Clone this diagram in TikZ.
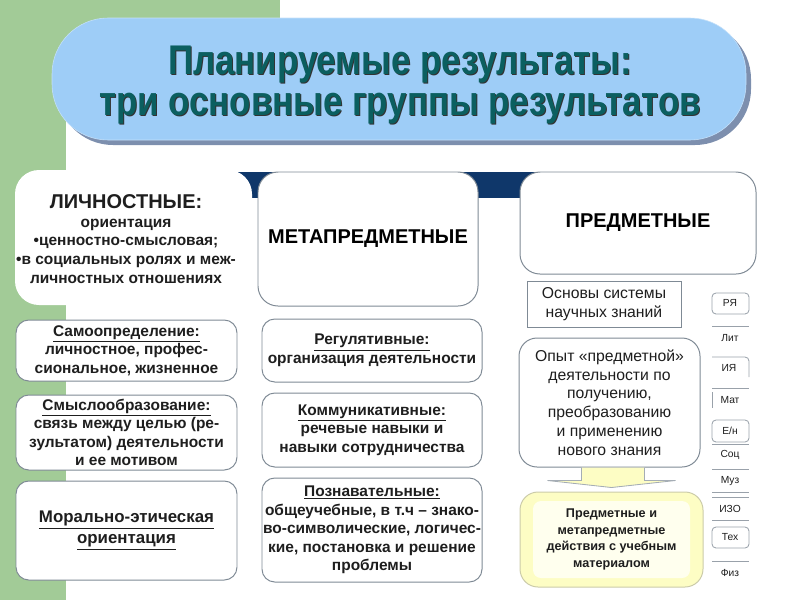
\documentclass[tikz,border=0pt]{standalone}
\usepackage{fontspec}
\setmainfont{Liberation Sans}
\newfontfamily\titlefont[FakeStretch=0.84]{Liberation Sans}
\usepackage{xcolor}
\usetikzlibrary{calc}

\definecolor{stripgreen}{HTML}{A2CB97}
\definecolor{pillblue}{HTML}{9ECDF7}
\definecolor{pillshadow}{HTML}{7D8FAE}
\definecolor{titleteal}{HTML}{0B5F60}
\definecolor{bandnavy}{HTML}{0F376A}
\definecolor{boxgray}{HTML}{7F8A95}
\definecolor{txtdark}{HTML}{1E1E1E}
\definecolor{paleyellow}{HTML}{FDFDC4}
\definecolor{lightyellow}{HTML}{FFFFEE}

\tikzset{
	groupbox/.style={draw=boxgray, fill=white, line width=0.7pt, rounded corners=5mm},
	itembox/.style={draw=boxgray, fill=white, line width=0.7pt, rounded corners=3.2mm, inner sep=0.5pt},
	boldtxt/.style={text=txtdark, align=center, font=\bfseries\fontsize{11}{13.2}\selectfont},
	plaintxt/.style={text=txtdark, align=center, font=\fontsize{11.2}{13.3}\selectfont},
	headtxt/.style={text=black, align=center, font=\bfseries\fontsize{14.2}{16}\selectfont},
	subjtxt/.style={text=txtdark, font=\fontsize{7.3}{8}\selectfont},
	subjline/.style={draw=boxgray!80, line width=0.6pt},
}

\begin{document}
\begin{tikzpicture}[x=0.025cm, y=-0.025cm]
		\def\pxu{0.025cm}
		\useasboundingbox (0,0) rectangle (800,600);
		
		% background strip
		\fill[stripgreen] (0,0) rectangle (280,110);
		\fill[stripgreen] (0,0) rectangle (66,600);
		
		% title
		\fill[pillshadow, rounded corners=14mm] (57,23) rectangle (751,145);
		\node[fill=pillblue, draw=pillblue!60!white, rounded corners=14mm,
			minimum width=694*\pxu, minimum height=122*\pxu] (pill) at (399,79) {};
		\node[align=center, text=black!80, font=\titlefont\bfseries\fontsize{29.5}{28.5}\selectfont]
			(titleshadow) at (401,86) {Планируемые результаты:\\три основные группы результатов};
		\node[align=center, text=titleteal, font=\titlefont\bfseries\fontsize{29.5}{28.5}\selectfont]
			(title) at (400,85) {Планируемые результаты:\\три основные группы результатов};
		
		% three groups
		\fill[bandnavy] (225,172) rectangle (600,198);
		\fill[white, rounded corners=6mm] (15,170) rectangle (252,305);
		\node[boldtxt] (lichn) at (126,239)
			{{\fontsize{14.2}{16}\selectfont ЛИЧНОСТНЫЕ:}\\ориентация\\•ценностно-смысловая;\\•в социальных ролях и меж-\\личностных отношениях};
		\node[groupbox, headtxt, minimum width=220*\pxu, minimum height=134*\pxu] (meta) at (368,239) {МЕТАПРЕДМЕТНЫЕ};
		\node[groupbox, headtxt, minimum width=236*\pxu, minimum height=102*\pxu] (predm) at (638,223) {ПРЕДМЕТНЫЕ};
		
		% personal results
		\node[itembox, boldtxt, minimum width=221*\pxu, minimum height=61*\pxu] (samo) at (126.5,350.5)
			{\underline{Самоопределение:}\\личностное, профес-\\сиональное, жизненное};
		\node[itembox, boldtxt, minimum width=221*\pxu, minimum height=75*\pxu] (smysl) at (126.5,432.5)
			{\underline{Смыслообразование:}\\связь между целью (ре-\\зультатом) деятельности\\и ее мотивом};
		\node[itembox, boldtxt, minimum width=221*\pxu, minimum height=99*\pxu,
			font=\bfseries\fontsize{12}{14.5}\selectfont] (moral) at (126.5,530.5)
			{\underline{Морально-этическая}\\\underline{ориентация}};
		
		% meta results
		\node[itembox, boldtxt, minimum width=220*\pxu, minimum height=63*\pxu] (reg) at (372,350.5)
			{\underline{Регулятивные:}\\организация деятельности};
		\node[itembox, boldtxt, minimum width=220*\pxu, minimum height=74*\pxu] (komm) at (372,430)
			{\underline{Коммуникативные:}\\речевые навыки и\\навыки сотрудничества};
		\node[itembox, boldtxt, minimum width=220*\pxu, minimum height=104*\pxu] (pozn) at (372,530)
			{\underline{Познавательные:}\\общеучебные, в т.ч -- знако-\\во-символические, логичес-\\кие, постановка и решение\\проблемы};
		
		% subject results
		\node[draw=boxgray, fill=white, line width=0.7pt, plaintxt, inner sep=1pt,
			minimum width=154*\pxu, minimum height=46*\pxu] (osnovy) at (604,304)
			{Основы системы\\научных знаний};
		\node[groupbox, plaintxt, rounded corners=4.5mm, inner sep=1pt,
			minimum width=181*\pxu, minimum height=129*\pxu] (opyt) at (609.5,402.5)
			{Опыт «предметной»\\деятельности по\\получению,\\преобразованию\\и применению\\нового знания};
		\node[draw=paleyellow!60!gray, fill=paleyellow, line width=0.7pt, rounded corners=4.5mm,
			minimum width=183*\pxu, minimum height=95*\pxu] (itog) at (611.5,539.5) {};
		\fill[lightyellow, rounded corners=2mm] (533,501) rectangle (690,578);
		\node[text=txtdark, align=center, font=\bfseries\fontsize{9}{11.7}\selectfont] (itogtxt) at (itog)
			{Предметные и\\метапредметные\\действия с учебным\\материалом};
		\draw[fill=paleyellow, draw=boxgray!70, line width=0.6pt]
			($(opyt.south)+(-28,0)$) -- ($(opyt.south)+(-28,13)$) -- ($(opyt.south)+(-62,13)$)
			-- ($(itog.north)+(0,-4)$) -- ($(opyt.south)+(66,13)$) -- ($(opyt.south)+(35,13)$)
			-- ($(opyt.south)+(35,0)$);
		
		% list of subjects
		\draw[subjline, rounded corners=1mm] (712,293) rectangle (749,314);
		\node[subjtxt] (rya) at (730,303) {РЯ};
		\draw[subjline] (712,326) -- (749,326);
		\node[subjtxt] (lit) at (730,338) {Лит};
		\draw[subjline, rounded corners=1mm] (712,357) -- (749,357) -- (749,377);
		\node[subjtxt] (iya) at (729,368) {ИЯ};
		\draw[subjline] (712,388) -- (749,388);
		\draw[subjline] (712,392) -- (712,408);
		\node[subjtxt] (mat) at (730,400) {Мат};
		\draw[subjline, rounded corners=1mm] (712,420) rectangle (749,442);
		\node[subjtxt] (en) at (730,431) {Е/н};
		\draw[subjline] (712,444) -- (749,444);
		\node[subjtxt] (soc) at (730,455) {Соц};
		\draw[subjline] (712,469) -- (749,469);
		\node[subjtxt] (muz) at (730,481) {Муз};
		\draw[subjline] (712,492) -- (749,492);
		\draw[subjline] (712,497) -- (749,497);
		\node[subjtxt] (izo) at (730,509) {ИЗО};
		\draw[subjline] (712,520) -- (749,520);
		\draw[subjline, rounded corners=1mm] (712,527) rectangle (749,548);
		\node[subjtxt] (teh) at (730,537) {Тех};
		\draw[subjline] (712,561) -- (749,561);
		\node[subjtxt] (fiz) at (730,573) {Физ};
	\end{tikzpicture}
\end{document}
